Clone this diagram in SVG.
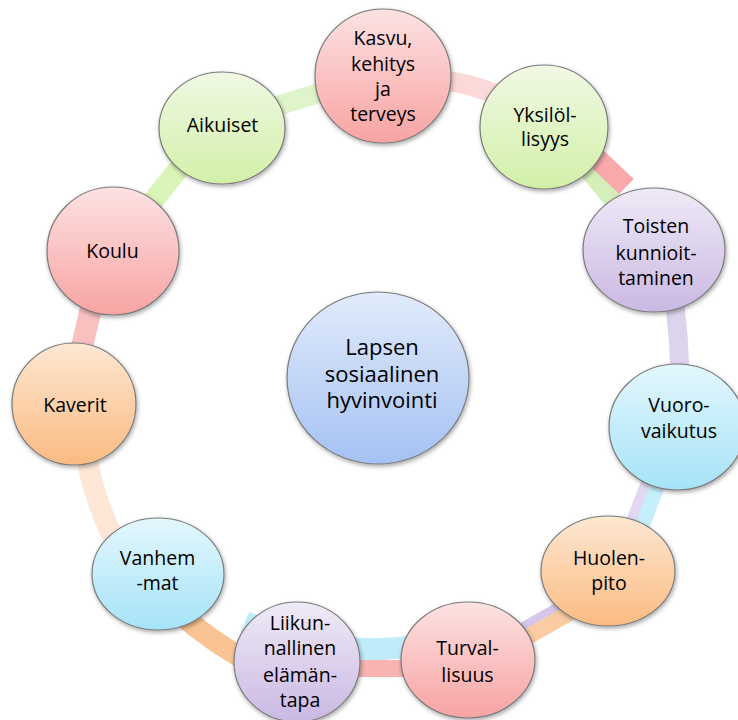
<svg xmlns="http://www.w3.org/2000/svg" width="738" height="720" viewBox="0 0 738 720">
<defs>
<linearGradient id="gPink" x1="0" y1="0" x2="0" y2="1"><stop offset="0" stop-color="#fde2e2"/><stop offset="1" stop-color="#f8a3a3"/></linearGradient>
<linearGradient id="gGreen" x1="0" y1="0" x2="0" y2="1"><stop offset="0" stop-color="#f0f9e4"/><stop offset="1" stop-color="#d2f0a8"/></linearGradient>
<linearGradient id="gPurple" x1="0" y1="0" x2="0" y2="1"><stop offset="0" stop-color="#efeaf6"/><stop offset="1" stop-color="#cab8e3"/></linearGradient>
<linearGradient id="gBlue" x1="0" y1="0" x2="0" y2="1"><stop offset="0" stop-color="#e3f7fd"/><stop offset="1" stop-color="#a6e3f8"/></linearGradient>
<linearGradient id="gOrange" x1="0" y1="0" x2="0" y2="1"><stop offset="0" stop-color="#fde7d2"/><stop offset="1" stop-color="#fbbb82"/></linearGradient>
<linearGradient id="gCenter" x1="0" y1="0" x2="0" y2="1"><stop offset="0" stop-color="#e1ebfb"/><stop offset="1" stop-color="#a5c1f3"/></linearGradient>
<filter id="sh" x="-20%" y="-20%" width="140%" height="140%"><feDropShadow dx="1" dy="2" stdDeviation="2" flood-color="#000" flood-opacity="0.35"/></filter>
</defs>
<style>
.n{stroke:#7a7a7a;stroke-width:1.2;filter:url(#sh)}
.t{font-family:"Open Sans","Noto Sans",sans-serif;font-size:19.5px;fill:#000;text-anchor:middle}
.tc{font-family:"Open Sans","Noto Sans",sans-serif;font-size:22px;fill:#000;text-anchor:middle}
.b{fill:none;stroke-linecap:butt}
</style>
<g id="connectors">
<path class="b" d="M270,108 Q300,99 332,89" stroke="#e0f4cc" stroke-width="20"/>
<path class="b" d="M440,80 Q472,83 502,97" stroke="#fcd9d9" stroke-width="20"/>
<path class="b" d="M578,158 L625,215" stroke="#d5efba" stroke-width="18"/>
<path class="b" d="M588,150 L626.5,186.5" stroke="#f9a9a9" stroke-width="21"/>
<path class="b" d="M675,305 Q679,338 680,372" stroke="#ddd3ec" stroke-width="19"/>
<path class="b" d="M658,465 L632,532" stroke="#e2d9f0" stroke-width="20"/>
<path class="b" d="M665,465 L640,532" stroke="#c6eefb" stroke-width="15"/>
<path class="b" d="M510,638 L575,601" stroke="#d5c6ea" stroke-width="16"/>
<path class="b" d="M515,644 L580,607" stroke="#fbcca3" stroke-width="16"/>
<path class="b" d="M245,622 Q335,660 420,645" stroke="#c0ecfa" stroke-width="22"/>
<path class="b" d="M345,668.5 L420,668.5" stroke="#f9b3b3" stroke-width="17"/>
<path class="b" d="M175,610 Q215,645 260,668" stroke="#f9c393" stroke-width="21"/>
<path class="b" d="M86,450 Q92,500 120,550" stroke="#fde6d6" stroke-width="21"/>
<path class="b" d="M93,300 L80,355" stroke="#f9c0c0" stroke-width="22"/>
<path class="b" d="M148,207 L190,155" stroke="#d9f5b8" stroke-width="21"/>
</g>
<g id="center"><ellipse class="n" cx="378" cy="378" rx="91" ry="86" fill="url(#gCenter)"/>
<text class="tc" x="382" y="355">Lapsen</text><text class="tc" x="382" y="382">sosiaalinen</text><text class="tc" x="382" y="408">hyvinvointi</text></g>
<g id="kasvu"><ellipse class="n" cx="383" cy="76" rx="68" ry="67" fill="url(#gPink)"/>
<text class="t" x="383" y="45">Kasvu,</text><text class="t" x="383" y="71">kehitys</text><text class="t" x="383" y="96">ja</text><text class="t" x="383" y="121">terveys</text></g>
<g id="yksilollisyys"><ellipse class="n" cx="544" cy="127" rx="64" ry="62" fill="url(#gGreen)"/>
<text class="t" x="545" y="122">Yksilöl-</text><text class="t" x="545" y="146">lisyys</text></g>
<g id="toisten"><ellipse class="n" cx="654" cy="250" rx="71" ry="62" fill="url(#gPurple)"/>
<text class="t" x="656" y="233">Toisten</text><text class="t" x="656" y="260">kunnioit-</text><text class="t" x="656" y="285">taminen</text></g>
<g id="vuorovaikutus"><ellipse class="n" cx="677" cy="427" rx="68" ry="63" fill="url(#gBlue)"/>
<text class="t" x="679" y="412">Vuoro-</text><text class="t" x="679" y="438">vaikutus</text></g>
<g id="huolenpito"><ellipse class="n" cx="608" cy="571" rx="67" ry="55" fill="url(#gOrange)"/>
<text class="t" x="609" y="565">Huolen-</text><text class="t" x="609" y="590">pito</text></g>
<g id="turvallisuus"><ellipse class="n" cx="468" cy="660" rx="67" ry="58" fill="url(#gPink)"/>
<text class="t" x="467.5" y="655">Turval-</text><text class="t" x="467.5" y="682">lisuus</text></g>
<g id="liikunnallinen"><ellipse class="n" cx="297" cy="662" rx="63" ry="60" fill="url(#gPurple)"/>
<text class="t" x="300" y="630">Liikun-</text><text class="t" x="300" y="655">nallinen</text><text class="t" x="300" y="682">elämän-</text><text class="t" x="300" y="707">tapa</text></g>
<g id="vanhemmat"><ellipse class="n" cx="158" cy="574" rx="66" ry="56" fill="url(#gBlue)"/>
<text class="t" x="157.5" y="565">Vanhem</text><text class="t" x="157.5" y="590">-mat</text></g>
<g id="kaverit"><ellipse class="n" cx="74" cy="404" rx="62" ry="61" fill="url(#gOrange)"/>
<text class="t" x="75" y="412">Kaverit</text></g>
<g id="koulu"><ellipse class="n" cx="113" cy="251" rx="66" ry="64" fill="url(#gPink)"/>
<text class="t" x="112.5" y="258">Koulu</text></g>
<g id="aikuiset"><ellipse class="n" cx="222" cy="128" rx="63" ry="56" fill="url(#gGreen)"/>
<text class="t" x="222.5" y="132">Aikuiset</text></g>
</svg>
